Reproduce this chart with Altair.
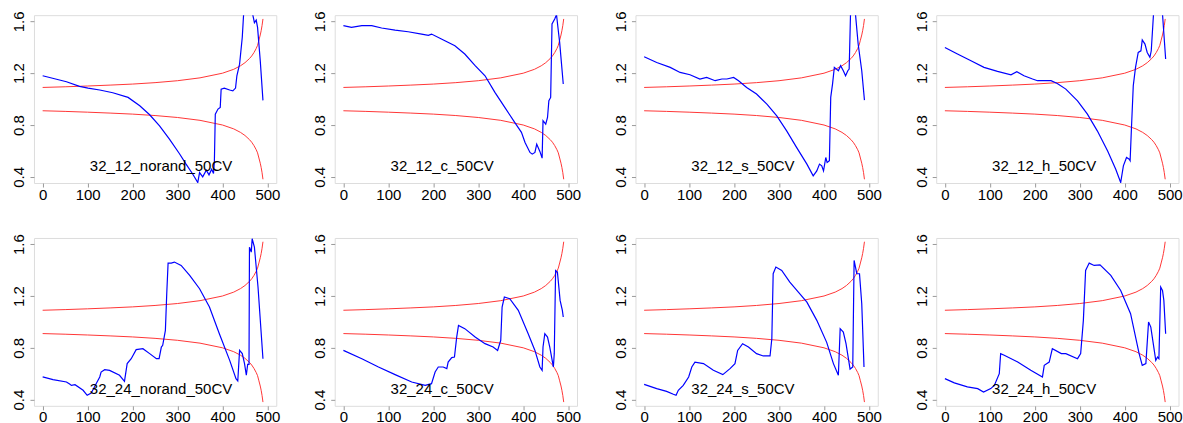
import altair as alt
import pandas as pd

# ---- data ----
labels = ["32_12_norand_50CV", "32_12_c_50CV", "32_12_s_50CV", "32_12_h_50CV",
          "32_24_norand_50CV", "32_24_c_50CV", "32_24_s_50CV", "32_24_h_50CV"]

red_x = [0, 50, 100, 150, 200, 250, 300, 350, 400, 425, 440, 450, 460, 465, 470, 475, 478, 481, 484, 486, 488, 490]
red_hi = [1.090, 1.095, 1.101, 1.108, 1.116, 1.127, 1.142, 1.164, 1.200, 1.230, 1.257, 1.281, 1.313, 1.333,
          1.359, 1.391, 1.415, 1.455, 1.495, 1.528, 1.568, 1.619]
red_lo = [0.910, 0.905, 0.899, 0.892, 0.884, 0.873, 0.858, 0.836, 0.800, 0.770, 0.743, 0.719, 0.687, 0.667,
          0.641, 0.609, 0.585, 0.545, 0.505, 0.472, 0.432, 0.381]

p1_x = [0, 53, 82, 101, 127, 156, 190, 216, 238, 260, 282, 304, 319, 334, 345, 349, 356, 364, 370, 376, 380,
        382, 384, 390, 395, 397, 404, 416, 423, 429, 432, 438, 444, 447, 452, 460, 465, 467, 471, 475, 478, 484, 490]
p1_y = [1.180, 1.134, 1.098, 1.085, 1.070, 1.049, 1.013, 0.949, 0.879, 0.794, 0.691, 0.580, 0.498, 0.420, 0.356,
        0.433, 0.400, 0.451, 0.415, 0.459, 0.426, 0.524, 0.884, 0.923, 0.936, 1.077, 1.085, 1.070, 1.064, 1.085,
        1.180, 1.270, 1.477, 1.657, 1.800, 1.850, 1.750, 1.657, 1.590, 1.610, 1.554, 1.296, 0.990]

p2_x = [0, 18, 41, 63, 85, 115, 144, 174, 189, 196, 218, 248, 270, 293, 315, 337, 359, 381, 396, 404, 415, 420,
        426, 430, 437, 442, 444, 450, 454, 457, 461, 464, 470, 474, 478, 481, 489]
p2_y = [1.567, 1.554, 1.567, 1.567, 1.549, 1.533, 1.520, 1.502, 1.492, 1.502, 1.464, 1.412, 1.348, 1.258, 1.180,
        1.052, 0.936, 0.820, 0.743, 0.665, 0.588, 0.575, 0.588, 0.652, 0.596, 0.544, 0.833, 0.807, 0.858, 0.987,
        1.013, 1.580, 1.618, 1.652, 1.528, 1.438, 1.116]

p3_x = [0, 28, 58, 80, 102, 124, 139, 158, 173, 184, 199, 210, 228, 250, 273, 295, 317, 339, 362, 376, 384, 390,
        395, 399, 404, 407, 412, 415, 419, 423, 432, 437, 443, 448, 453, 456, 459, 463, 467, 470, 476, 484, 490]
p3_y = [1.327, 1.283, 1.245, 1.206, 1.188, 1.155, 1.167, 1.142, 1.155, 1.155, 1.167, 1.142, 1.090, 1.039, 0.961,
        0.871, 0.755, 0.627, 0.498, 0.408, 0.446, 0.498, 0.485, 0.446, 0.549, 0.510, 0.524, 1.013, 1.116, 1.245,
        1.219, 1.258, 1.219, 1.180, 1.219, 1.232, 1.657, 1.800, 1.850, 1.657, 1.425, 1.219, 0.992]

p4_x = [0, 28, 58, 87, 117, 147, 160, 176, 195, 206, 236, 250, 269, 295, 317, 339, 362, 380, 391, 397, 404, 410,
        412, 415, 419, 424, 430, 436, 439, 445, 450, 456, 459, 464, 470, 476, 484, 491]
p4_y = [1.399, 1.348, 1.296, 1.245, 1.214, 1.188, 1.211, 1.180, 1.155, 1.142, 1.142, 1.121, 1.077, 0.987, 0.884,
        0.755, 0.600, 0.459, 0.356, 0.485, 0.549, 0.536, 0.524, 0.781, 1.103, 1.245, 1.360, 1.373, 1.456, 1.425,
        1.360, 1.322, 1.373, 1.657, 1.850, 1.900, 1.657, 1.309]

p5_x = [0, 23, 53, 60, 64, 72, 90, 99, 108, 119, 127, 130, 138, 149, 171, 182, 188, 197, 208, 223, 238, 253, 259,
        264, 267, 273, 276, 279, 286, 293, 308, 327, 349, 371, 393, 416, 430, 434, 438, 444, 449, 453, 456, 459,
        460, 464, 466, 471, 479, 490]
p5_y = [0.575, 0.554, 0.536, 0.520, 0.510, 0.515, 0.472, 0.433, 0.451, 0.523, 0.575, 0.613, 0.631, 0.626, 0.588,
        0.541, 0.678, 0.716, 0.786, 0.793, 0.755, 0.716, 0.716, 0.806, 0.819, 0.935, 1.217, 1.454, 1.454, 1.462,
        1.436, 1.359, 1.256, 1.115, 0.909, 0.703, 0.562, 0.544, 0.780, 0.755, 0.678, 0.588, 0.672, 0.672,
        1.577, 1.539, 1.642, 1.577, 1.269, 0.716]

p6_x = [0, 41, 78, 115, 152, 182, 196, 204, 211, 222, 230, 233, 241, 247, 252, 256, 270, 293, 315, 333, 343, 350,
        353, 358, 370, 389, 411, 426, 437, 442, 444, 448, 454, 459, 467, 469, 472, 476, 482, 487, 489]
p6_y = [0.780, 0.716, 0.652, 0.593, 0.536, 0.510, 0.523, 0.613, 0.652, 0.652, 0.639, 0.690, 0.724, 0.729, 0.883,
        0.973, 0.948, 0.883, 0.832, 0.806, 0.780, 0.858, 1.115, 1.192, 1.179, 1.089, 0.909, 0.780, 0.652, 0.626,
        0.806, 0.909, 0.883, 0.806, 0.652, 0.755, 1.397, 1.385, 1.166, 1.089, 1.038]

p7_x = [0, 28, 50, 65, 71, 76, 87, 99, 106, 113, 132, 154, 175, 191, 202, 208, 219, 232, 250, 265, 280, 284, 287,
        293, 306, 324, 343, 362, 384, 406, 421, 432, 436, 443, 449, 458, 464, 467, 473, 479, 484, 489]
p7_y = [0.518, 0.485, 0.464, 0.441, 0.433, 0.472, 0.510, 0.575, 0.652, 0.690, 0.678, 0.626, 0.593, 0.639, 0.678,
        0.780, 0.832, 0.806, 0.755, 0.737, 0.737, 0.870, 1.372, 1.424, 1.398, 1.307, 1.230, 1.153, 1.012, 0.842,
        0.678, 0.588, 0.948, 0.922, 0.832, 0.636, 0.652, 1.475, 1.372, 1.372, 1.140, 0.652]

p8_x = [0, 21, 50, 73, 86, 102, 110, 121, 124, 132, 162, 191, 217, 221, 232, 239, 259, 269, 295, 302, 308, 313,
        321, 332, 345, 369, 391, 413, 432, 439, 447, 453, 458, 469, 473, 476, 480, 484, 487, 491]
p8_y = [0.562, 0.529, 0.498, 0.485, 0.459, 0.485, 0.510, 0.600, 0.755, 0.742, 0.690, 0.626, 0.575, 0.665, 0.690,
        0.793, 0.755, 0.755, 0.716, 0.755, 1.012, 1.397, 1.454, 1.436, 1.440, 1.359, 1.243, 1.063, 0.755, 0.665,
        0.678, 0.999, 0.960, 0.703, 0.729, 0.716, 1.269, 1.243, 1.166, 0.909]

blue_x = [p1_x, p2_x, p3_x, p4_x, p5_x, p6_x, p7_x, p8_x]
blue_y = [p1_y, p2_y, p3_y, p4_y, p5_y, p6_y, p7_y, p8_y]

x_ticks = [0, 100, 200, 300, 400, 500]
y_ticks = [0.4, 0.6, 0.8, 1.0, 1.2, 1.4, 1.6]
label_pos = (105, 0.446)

# ---- chart ----
FONT = "Liberation Sans"
xscale = alt.Scale(domain=[-19.3, 519.6], nice=False, zero=False)
yscale = alt.Scale(domain=[0.352, 1.648], nice=False, zero=False)
xaxis = alt.Axis(values=x_ticks, title=None, grid=False, domain=False, tickSize=4, tickColor="#9a9a9a",
                 labelFontSize=15, labelFont=FONT, labelColor="#000000", labelPadding=0, labelFlush=False)
yaxis = alt.Axis(values=y_ticks, title=None, grid=False, domain=False, tickSize=4, tickColor="#9a9a9a",
                 labelFontSize=15, labelFont=FONT, labelColor="#000000", labelAngle=270,
                 labelAlign="center", labelBaseline="alphabetic", labelPadding=6, labelFlush=False,
                 labelExpr="indexof(['0.4','0.8','1.2','1.6'], format(datum.value, '.1f')) >= 0 ? format(datum.value, '.1f') : ''")

red_df = pd.DataFrame({"x": red_x, "hi": red_hi, "lo": red_lo})

panels = []
for i in range(8):
    bdf = pd.DataFrame({"x": blue_x[i], "y": blue_y[i]})
    tdf = pd.DataFrame({"x": [label_pos[0]], "y": [label_pos[1]], "t": [labels[i]]})
    hi = alt.Chart(red_df).mark_line(color="#ff3636", strokeWidth=1, clip=True).encode(
        x=alt.X("x:Q", scale=xscale, axis=xaxis), y=alt.Y("hi:Q", scale=yscale, axis=yaxis))
    lo = alt.Chart(red_df).mark_line(color="#ff3636", strokeWidth=1, clip=True).encode(
        x=alt.X("x:Q", scale=xscale), y=alt.Y("lo:Q", scale=yscale))
    bl = alt.Chart(bdf).mark_line(color="#0000ff", strokeWidth=1.2, clip=True).encode(
        x=alt.X("x:Q", scale=xscale), y=alt.Y("y:Q", scale=yscale))
    tx = alt.Chart(tdf).mark_text(align="left", baseline="alphabetic", fontSize=15, font=FONT,
                                  color="#000000").encode(
        x=alt.X("x:Q", scale=xscale), y=alt.Y("y:Q", scale=yscale), text="t:N")
    panels.append(alt.layer(hi, lo, bl, tx).properties(width=242.5, height=168))

chart = alt.concat(*panels, columns=4, spacing={"row": 55, "column": 58}, bounds="flush").properties(
    padding={"left": 11, "top": 10, "right": 0, "bottom": 0}
).configure_view(stroke="#9a9a9a", strokeWidth=1).configure(background="white")

chart.save("out.html", embed_options={"renderer": "svg", "actions": False})
